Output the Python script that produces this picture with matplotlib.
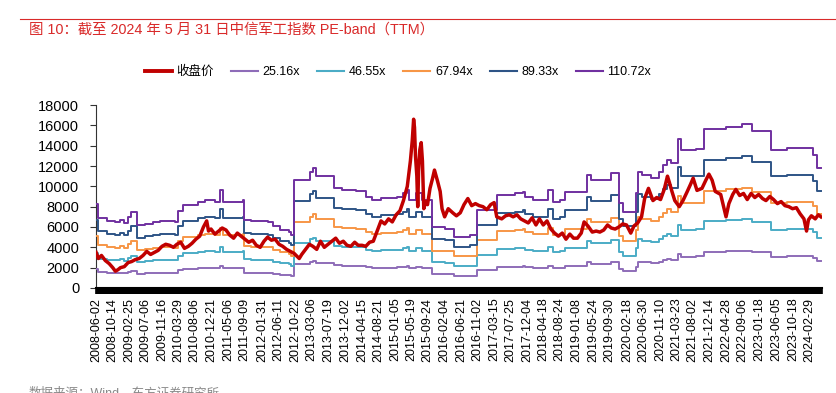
import matplotlib
matplotlib.use("Agg")
import matplotlib.pyplot as plt
import matplotlib.dates as mdates
import numpy as np
import pandas as pd

plt.rcParams['font.family'] = ['Liberation Sans', 'Noto Sans CJK SC', 'DejaVu Sans']

# ---------------- data ----------------
title = "图 10：截至 2024 年 5 月 31 日中信军工指数 PE-band（TTM）"
source = "数据来源：Wind，东方证券研究所"

close_label = "收盘价"
multiples = [25.16, 46.55, 67.94, 89.33, 110.72]
band_labels = ["25.16x", "46.55x", "67.94x", "89.33x", "110.72x"]

close_dates = [
    "2008-06-02", "2008-06-20", "2008-07-15", "2008-08-15", "2008-09-15", "2008-10-14", "2008-11-04", "2008-11-25",
    "2008-12-15", "2009-01-15", "2009-02-15", "2009-03-15", "2009-04-15", "2009-05-15", "2009-06-15", "2009-07-15",
    "2009-08-15", "2009-09-15", "2009-10-15", "2009-11-15", "2009-12-15", "2010-01-15", "2010-02-15", "2010-03-15",
    "2010-04-15", "2010-05-15", "2010-06-15", "2010-07-15", "2010-08-15", "2010-09-15", "2010-10-15", "2010-11-10",
    "2010-11-25", "2010-12-15", "2011-01-15", "2011-02-15", "2011-03-15", "2011-04-15", "2011-05-15", "2011-06-15",
    "2011-07-15", "2011-08-15", "2011-09-15", "2011-10-15", "2011-11-15", "2011-12-15", "2012-01-15", "2012-02-15",
    "2012-03-15", "2012-04-15", "2012-05-15", "2012-06-15", "2012-07-15", "2012-08-15", "2012-09-15", "2012-10-15",
    "2012-11-25", "2012-12-15", "2013-01-15", "2013-02-15", "2013-03-15", "2013-04-15", "2013-05-15", "2013-06-15",
    "2013-07-15", "2013-08-15", "2013-09-15", "2013-10-15", "2013-11-15", "2013-12-15", "2014-01-15", "2014-02-15",
    "2014-03-15", "2014-04-15", "2014-05-15", "2014-06-15", "2014-07-15", "2014-08-15", "2014-09-15", "2014-10-15",
    "2014-11-15", "2014-12-15", "2015-01-15", "2015-02-15", "2015-03-15", "2015-04-15", "2015-05-10", "2015-05-25",
    "2015-06-05", "2015-06-12", "2015-06-20", "2015-07-01", "2015-07-08", "2015-07-15", "2015-07-25", "2015-08-05",
    "2015-08-15", "2015-08-26", "2015-09-10", "2015-09-25", "2015-10-15", "2015-11-05", "2015-11-20", "2015-12-15",
    "2016-01-05", "2016-01-20", "2016-02-10", "2016-03-10", "2016-04-15", "2016-05-15", "2016-06-15", "2016-07-15",
    "2016-08-15", "2016-09-15", "2016-10-15", "2016-11-15", "2016-12-15", "2017-01-15", "2017-02-15", "2017-03-15",
    "2017-04-05", "2017-05-15", "2017-06-15", "2017-07-15", "2017-08-15", "2017-09-15", "2017-10-15", "2017-11-15",
    "2017-12-15", "2018-01-15", "2018-02-15", "2018-03-15", "2018-04-15", "2018-05-15", "2018-06-15", "2018-07-15",
    "2018-08-15", "2018-09-15", "2018-10-15", "2018-11-15", "2018-12-15", "2019-01-15", "2019-02-15", "2019-03-10",
    "2019-04-10", "2019-05-15", "2019-06-15", "2019-07-15", "2019-08-15", "2019-09-15", "2019-10-15", "2019-11-15",
    "2019-12-15", "2020-01-15", "2020-02-15", "2020-03-20", "2020-04-15", "2020-05-15", "2020-06-15", "2020-07-10",
    "2020-08-10", "2020-09-15", "2020-10-15", "2020-11-15", "2020-12-15", "2021-01-10", "2021-01-25", "2021-02-15",
    "2021-03-10", "2021-04-15", "2021-05-15", "2021-06-15", "2021-07-15", "2021-08-05", "2021-09-05", "2021-10-15",
    "2021-11-15", "2021-12-10", "2022-01-05", "2022-01-30", "2022-03-15", "2022-04-27", "2022-05-20", "2022-06-20",
    "2022-07-15", "2022-08-15", "2022-09-15", "2022-10-15", "2022-11-15", "2022-12-15", "2023-01-15", "2023-02-15",
    "2023-03-15", "2023-04-15", "2023-05-15", "2023-06-15", "2023-07-15", "2023-08-15", "2023-09-15", "2023-10-15",
    "2023-11-15", "2023-12-15", "2024-01-15", "2024-02-05", "2024-02-20", "2024-03-15", "2024-04-15", "2024-05-10",
    "2024-05-31",
]
close_values = [
    3500, 2900, 3200, 2700, 2400, 2000, 1650, 1800,
    2000, 2100, 2500, 2600, 2800, 2900, 3200, 3600,
    3300, 3500, 3700, 4100, 4300, 4200, 4000, 4300,
    4500, 3900, 4100, 4400, 4800, 5100, 6000, 6600,
    5600, 5800, 5300, 5600, 5900, 5700, 5200, 4900,
    5400, 5100, 4800, 4500, 4700, 4200, 4000, 4600,
    5000, 4700, 4800, 4300, 4100, 3800, 3600, 3400,
    2900, 3300, 3800, 4300, 4100, 3800, 4600, 4000,
    4300, 4600, 4900, 4400, 4600, 4200, 4100, 4500,
    4200, 4200, 4100, 4500, 4600, 5600, 6600, 6300,
    6800, 6500, 7200, 7600, 8600, 10000, 12500, 14500,
    16600, 15800, 13000, 11000, 8000, 11500, 13600, 14300,
    12500, 7800, 8500, 8200, 9800, 10800, 11600, 10500,
    9500, 7800, 7000, 7800, 7400, 7100, 7400, 8200,
    8800, 8100, 8300, 8100, 8000, 7700, 8200, 8400,
    7000, 6800, 7100, 7200, 7000, 7200, 6800, 6600,
    6400, 6900, 6200, 6800, 6200, 6600, 5800, 5400,
    5100, 5400, 4800, 5300, 4900, 4900, 5400, 6500,
    6100, 5500, 5600, 5500, 5700, 6200, 5900, 5800,
    6000, 6300, 6200, 5400, 6100, 6400, 7000, 8800,
    9800, 8600, 8900, 8700, 9700, 11000, 10400, 9500,
    8600, 8000, 8600, 9400, 10200, 10800, 9600, 9800,
    10600, 11200, 10600, 9500, 9200, 7000, 8300, 9200,
    9700, 9100, 9300, 8700, 9300, 8900, 9200, 8800,
    8600, 9000, 8700, 8300, 8500, 8100, 8000, 7800,
    7900, 7300, 6800, 5600, 6700, 7100, 6800, 7200,
    7000,
]

# 110.72x band (step changes); EPS = band / 110.72
band_dates = [
    "2008-06-02", "2008-06-16", "2008-08-29", "2008-10-31", "2008-12-10", "2009-01-12", "2009-02-16", "2009-03-09",
    "2009-04-30", "2009-07-01", "2009-08-31", "2009-10-30", "2010-01-15", "2010-03-01", "2010-03-25", "2010-04-30",
    "2010-08-31", "2010-10-29", "2011-01-20", "2011-03-01", "2011-03-25", "2011-08-31", "2011-09-06", "2011-11-01",
    "2012-03-20", "2012-04-27", "2012-06-20", "2012-08-31", "2012-09-20", "2012-10-10", "2013-02-20", "2013-03-20",
    "2013-04-10", "2013-08-30", "2013-11-01", "2014-03-01", "2014-05-15", "2014-07-01", "2014-09-15", "2015-01-20",
    "2015-03-10", "2015-04-10", "2015-04-30", "2015-06-25", "2015-08-15", "2015-10-30", "2016-02-15", "2016-04-29",
    "2016-08-31", "2016-10-28", "2017-04-05", "2017-08-31", "2017-10-31", "2017-11-20", "2018-01-20", "2018-05-20",
    "2018-07-05", "2018-08-31", "2018-10-10", "2019-04-01", "2019-05-01", "2019-10-15", "2019-12-20", "2020-01-20",
    "2020-04-28", "2020-05-20", "2020-06-20", "2020-08-31", "2020-10-30", "2020-12-01", "2021-01-05", "2021-02-10",
    "2021-04-08", "2021-04-30", "2021-08-31", "2021-10-29", "2022-04-29", "2022-08-31", "2022-11-20", "2023-04-28",
    "2023-08-31", "2024-03-25", "2024-04-30", "2024-05-31",
]
band_top_values = [
    8300, 6900, 6600, 6450, 6700, 6400, 7000, 7500,
    6150, 6300, 6450, 6600, 6550, 6450, 7600, 8200,
    8500, 8650, 8500, 9600, 8500, 8650, 6700, 6550,
    6500, 6050, 5750, 5500, 5200, 10600, 11400, 11800,
    11000, 9800, 9650, 9500, 9000, 8700, 8850, 9000,
    9300, 9650, 8650, 9300, 8650, 6000, 5850, 5050,
    5200, 7650, 9150, 9300, 9450, 9000, 8650, 9600,
    8450, 8650, 9450, 11100, 10600, 11300, 8400, 7500,
    9300, 11400, 11100, 10800, 11450, 12100, 12600, 12250,
    14700, 13600, 13700, 15600, 15800, 16100, 15400, 13600,
    13800, 13100, 11800, 11800,
]

tick_labels = [
    "2008-06-02", "2008-10-14", "2009-02-25", "2009-07-06", "2009-11-16", "2010-03-29", "2010-08-06", "2010-12-21",
    "2011-05-06", "2011-09-09", "2012-01-31", "2012-06-11", "2012-10-22", "2013-03-06", "2013-07-19", "2013-12-02",
    "2014-04-15", "2014-08-21", "2015-01-05", "2015-05-19", "2015-09-24", "2016-02-04", "2016-06-21", "2016-11-02",
    "2017-03-15", "2017-07-25", "2017-12-04", "2018-04-18", "2018-08-24", "2019-01-08", "2019-05-24", "2019-09-30",
    "2020-02-18", "2020-06-30", "2020-11-10", "2021-03-23", "2021-08-02", "2021-12-14", "2022-04-28", "2022-09-06",
    "2023-01-18", "2023-06-05", "2023-10-18", "2024-02-29",
]
y_ticks = [0, 2000, 4000, 6000, 8000, 10000, 12000, 14000, 16000, 18000]

# ---------------- style ----------------
close_color = "#C00000"
band_colors = ["#8E6CB8", "#4BACC6", "#F79646", "#2E5486", "#7030A0"]
title_color = "#D92A2A"

fig = plt.figure(figsize=(8.37, 3.93), dpi=100)
ax = fig.add_axes([0.1147, 0.2672, 0.8673, 0.4656])

cd = pd.to_datetime(close_dates)
bd = pd.to_datetime(band_dates)
eps = np.array(band_top_values, dtype=float) / multiples[-1]

lines = []
l0, = ax.plot(cd, close_values, color=close_color, lw=2.5, zorder=5, label=close_label,
              solid_joinstyle='round')
lines.append(l0)
for m, lab, col in zip(multiples, band_labels, band_colors):
    l, = ax.step(bd, eps * m, where='post', color=col, lw=1.4, label=lab, zorder=3)
    lines.append(l)

ax.set_ylim(0, 18000)
ax.set_yticks(y_ticks)
ax.set_yticklabels([str(v) for v in y_ticks], fontsize=10.5)
ax.set_xlim(pd.Timestamp("2008-06-01"), pd.Timestamp("2024-06-08"))

tick_dates = pd.to_datetime(tick_labels)
ax.set_xticks(tick_dates)
ax.set_xticklabels(tick_labels, rotation=90, fontsize=9)
ax.xaxis.set_minor_locator(mdates.DayLocator(interval=4))
ax.tick_params(axis='x', which='both', length=4, width=1.2, direction='out', color='black', pad=3)
ax.tick_params(axis='y', length=4, width=0.8, direction='out', color='#333333', pad=8)

for s in ['top', 'right']:
    ax.spines[s].set_visible(False)
ax.spines['left'].set_color('#333333')
ax.spines['left'].set_linewidth(0.8)
ax.spines['bottom'].set_color('black')
ax.spines['bottom'].set_linewidth(1.5)

leg = fig.legend(handles=lines, loc='center', bbox_to_anchor=(398 / 837, 1 - 72 / 393), ncol=6,
                 frameon=False, fontsize=9, handlelength=2.15, handletextpad=0.4, columnspacing=1.35)
for h in leg.get_lines()[1:]:
    h.set_linewidth(1.5)
leg.get_lines()[0].set_linewidth(2.8)

# header rule and title
fig.add_artist(plt.Line2D([20 / 837, 1.0], [1 - 19 / 393, 1 - 19 / 393], color=title_color, lw=0.8))
fig.text(29 / 837, 1 - 30 / 393, title, color=title_color, fontsize=10.4, va='center', ha='left')
fig.text(29 / 837, 1 - 387 / 393, source, color='#888888', fontsize=9, va='top', ha='left')

fig.savefig("out.png", dpi=100)
